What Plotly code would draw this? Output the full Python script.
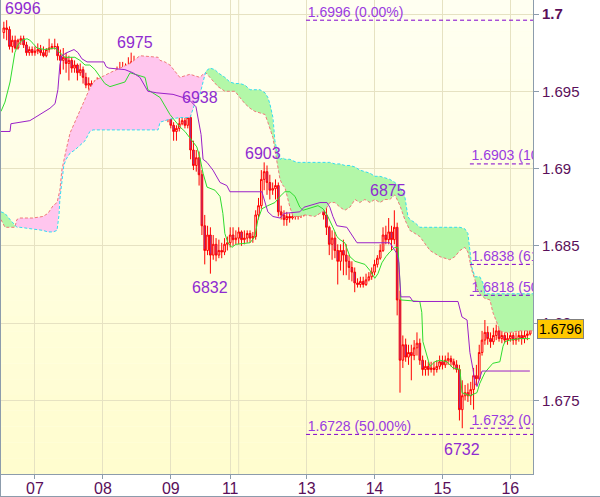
import plotly.graph_objects as go

# ---------------- data (hourly bars, index 0 = start of day 07) ----------------
BARS = list(range(-11, 176))

OPEN = [1.6988, 1.6991, 1.6990, 1.6979, 1.6983, 1.6978, 1.6983, 1.6984, 1.6980, 1.6975, 1.6977,
        1.6975, 1.6976, 1.6977, 1.6975, 1.6973, 1.6977, 1.6978, 1.6979, 1.6979, 1.6973, 1.6970, 1.6972,
        1.6968, 1.6970, 1.6965, 1.6967, 1.6962, 1.6964, 1.6959, 1.6954, 1.6955, 1.6953, 1.6954, 1.6956,
        1.6953, 1.6955, 1.6952, 1.6955, 1.6957, 1.6959, 1.6964, 1.6962, 1.6965, 1.6961, 1.6966, 1.6969,
        1.6962, 1.6948, 1.6959, 1.6956, 1.6946, 1.6941, 1.6935, 1.6943, 1.6933, 1.6935, 1.6933, 1.6934,
        1.6933, 1.6928, 1.6924, 1.6926, 1.6929, 1.6931, 1.6928, 1.6933, 1.6912, 1.6902, 1.6907, 1.6896,
        1.6863, 1.6847, 1.6857, 1.6844, 1.6851, 1.6844, 1.6847, 1.6846, 1.6851,
        1.6852, 1.6857, 1.6854, 1.6855, 1.6859, 1.6854, 1.6855, 1.6858, 1.6855, 1.6856, 1.6870, 1.6876,
        1.6893, 1.6898, 1.6891, 1.6886, 1.6887, 1.6889, 1.6872, 1.6870, 1.6867, 1.6869, 1.6868, 1.6869,
        1.6869, 1.6871, 1.6870,
        1.6876, 1.6881, 1.6876, 1.6881, 1.6876, 1.6880, 1.6873, 1.6870, 1.6862, 1.6851, 1.6855, 1.6847,
        1.6840, 1.6847, 1.6844, 1.6840, 1.6836, 1.6833, 1.6826, 1.6825, 1.6827, 1.6825, 1.6828, 1.6830,
        1.6833, 1.6838, 1.6842, 1.6847, 1.6857, 1.6854, 1.6859, 1.6854,
        1.6862, 1.6815, 1.6776, 1.6786, 1.6778, 1.6781, 1.6779, 1.6784, 1.6787, 1.6776, 1.6770, 1.6772,
        1.6770, 1.6771, 1.6770, 1.6772, 1.6775, 1.6773, 1.6776, 1.6777, 1.6775, 1.6773, 1.6770, 1.6744,
        1.6753, 1.6755, 1.6753, 1.6757, 1.6766, 1.6764, 1.6781, 1.6789, 1.6794, 1.6790, 1.6788, 1.6792,
        1.6795, 1.6790, 1.6792, 1.6789, 1.6790, 1.6792, 1.6789, 1.6790, 1.6792, 1.6790, 1.6792, 1.6793]

HIGH = [1.6995, 1.6996, 1.6992, 1.6986, 1.6986, 1.6984, 1.6986, 1.6986, 1.6982, 1.6979, 1.6979,
        1.6979, 1.6981, 1.6980, 1.6979, 1.6978, 1.6984, 1.6981, 1.6984, 1.6981, 1.6977, 1.6978, 1.6975,
        1.6973, 1.6972, 1.6970, 1.6968, 1.6968, 1.6966, 1.6962, 1.6959, 1.6957, 1.6957, 1.6959, 1.6958,
        1.6957, 1.6957, 1.6957, 1.6960, 1.6961, 1.6966, 1.6969, 1.6969, 1.6968, 1.6972, 1.6975, 1.6973,
        1.6970, 1.6964, 1.6962, 1.6959, 1.6950, 1.6946, 1.6946, 1.6946, 1.6939, 1.6938, 1.6937, 1.6936,
        1.6935, 1.6930, 1.6928, 1.6933, 1.6935, 1.6933, 1.6935, 1.6935, 1.6918, 1.6912, 1.6911, 1.6899,
        1.6870, 1.6863, 1.6862, 1.6857, 1.6855, 1.6854, 1.6852, 1.6855, 1.6856,
        1.6862, 1.6862, 1.6860, 1.6862, 1.6860, 1.6860, 1.6860, 1.6860, 1.6859, 1.6873, 1.6881, 1.6899,
        1.6904, 1.6902, 1.6896, 1.6891, 1.6893, 1.6891, 1.6876, 1.6873, 1.6872, 1.6871, 1.6872, 1.6872,
        1.6873, 1.6874, 1.6880,
        1.6884, 1.6883, 1.6883, 1.6883, 1.6882, 1.6881, 1.6880, 1.6875, 1.6863, 1.6860, 1.6859, 1.6851,
        1.6851, 1.6854, 1.6851, 1.6844, 1.6840, 1.6836, 1.6829, 1.6830, 1.6830, 1.6832, 1.6833, 1.6836,
        1.6841, 1.6844, 1.6851, 1.6862, 1.6863, 1.6868, 1.6863, 1.6873,
        1.6865, 1.6821, 1.6792, 1.6790, 1.6786, 1.6786, 1.6789, 1.6794, 1.6790, 1.6779, 1.6776, 1.6775,
        1.6775, 1.6775, 1.6776, 1.6779, 1.6779, 1.6779, 1.6781, 1.6779, 1.6777, 1.6776, 1.6773, 1.6763,
        1.6760, 1.6761, 1.6762, 1.6771, 1.6773, 1.6786, 1.6795, 1.6802, 1.6798, 1.6794, 1.6797, 1.6799,
        1.6798, 1.6795, 1.6794, 1.6794, 1.6795, 1.6794, 1.6794, 1.6795, 1.6795, 1.6797, 1.6798, 1.6805]

LOW = [1.6984, 1.6983, 1.6977, 1.6975, 1.6977, 1.6977, 1.6980, 1.6978, 1.6973, 1.6973, 1.6973,
       1.6973, 1.6974, 1.6973, 1.6972, 1.6972, 1.6975, 1.6977, 1.6977, 1.6970, 1.6961, 1.6964, 1.6962,
       1.6957, 1.6962, 1.6962, 1.6957, 1.6960, 1.6955, 1.6952, 1.6951, 1.6950, 1.6951, 1.6952, 1.6951,
       1.6949, 1.6946, 1.6951, 1.6953, 1.6955, 1.6957, 1.6954, 1.6960, 1.6959, 1.6959, 1.6962, 1.6951,
       1.6933, 1.6944, 1.6951, 1.6938, 1.6937, 1.6931, 1.6933, 1.6925, 1.6931, 1.6931, 1.6931, 1.6930,
       1.6926, 1.6918, 1.6918, 1.6924, 1.6928, 1.6926, 1.6926, 1.6906, 1.6899, 1.6898, 1.6889, 1.6857,
       1.6838, 1.6844, 1.6832, 1.6841, 1.6840, 1.6842, 1.6842, 1.6844, 1.6847,
       1.6849, 1.6850, 1.6851, 1.6851, 1.6850, 1.6851, 1.6852, 1.6852, 1.6852, 1.6854, 1.6867, 1.6874,
       1.6886, 1.6883, 1.6880, 1.6883, 1.6880, 1.6869, 1.6867, 1.6863, 1.6863, 1.6865, 1.6867, 1.6867,
       1.6867, 1.6868, 1.6869,
       1.6874, 1.6873, 1.6874, 1.6872, 1.6870, 1.6872, 1.6867, 1.6857, 1.6844, 1.6841, 1.6842, 1.6825,
       1.6834, 1.6831, 1.6831, 1.6828, 1.6827, 1.6820, 1.6823, 1.6823, 1.6823, 1.6824, 1.6827, 1.6828,
       1.6831, 1.6836, 1.6841, 1.6846, 1.6851, 1.6851, 1.6847, 1.6851,
       1.6805, 1.6755, 1.6771, 1.6775, 1.6773, 1.6763, 1.6776, 1.6779, 1.6773, 1.6766, 1.6766, 1.6766,
       1.6768, 1.6766, 1.6768, 1.6770, 1.6770, 1.6771, 1.6773, 1.6772, 1.6770, 1.6768, 1.6737, 1.6732,
       1.6750, 1.6749, 1.6747, 1.6744, 1.6760, 1.6763, 1.6779, 1.6786, 1.6786, 1.6784, 1.6786, 1.6789,
       1.6788, 1.6787, 1.6787, 1.6786, 1.6788, 1.6786, 1.6786, 1.6788, 1.6786, 1.6787, 1.6789, 1.6792]

CLOSE = [1.6991, 1.6990, 1.6979, 1.6983, 1.6978, 1.6983, 1.6984, 1.6980, 1.6975, 1.6977, 1.6975,
         1.6976, 1.6977, 1.6975, 1.6973, 1.6977, 1.6978, 1.6979, 1.6979, 1.6973, 1.6970, 1.6972, 1.6968,
         1.6970, 1.6965, 1.6967, 1.6962, 1.6964, 1.6959, 1.6954, 1.6955, 1.6953, 1.6954, 1.6956, 1.6953,
         1.6955, 1.6952, 1.6955, 1.6957, 1.6959, 1.6964, 1.6962, 1.6965, 1.6961, 1.6966, 1.6969, 1.6962,
         1.6948, 1.6959, 1.6956, 1.6946, 1.6941, 1.6935, 1.6943, 1.6933, 1.6935, 1.6933, 1.6934, 1.6933,
         1.6928, 1.6924, 1.6926, 1.6929, 1.6931, 1.6928, 1.6933, 1.6912, 1.6902, 1.6907, 1.6896, 1.6863,
         1.6847, 1.6857, 1.6844, 1.6851, 1.6844, 1.6847, 1.6846, 1.6851, 1.6852,
         1.6857, 1.6854, 1.6855, 1.6859, 1.6854, 1.6855, 1.6858, 1.6855, 1.6856, 1.6870, 1.6876, 1.6893,
         1.6898, 1.6891, 1.6886, 1.6887, 1.6889, 1.6872, 1.6870, 1.6867, 1.6869, 1.6868, 1.6869, 1.6869,
         1.6871, 1.6870, 1.6876,
         1.6881, 1.6876, 1.6881, 1.6876, 1.6880, 1.6873, 1.6870, 1.6862, 1.6851, 1.6855, 1.6847, 1.6840,
         1.6847, 1.6844, 1.6840, 1.6836, 1.6833, 1.6826, 1.6825, 1.6827, 1.6825, 1.6828, 1.6830, 1.6833,
         1.6838, 1.6842, 1.6847, 1.6857, 1.6854, 1.6859, 1.6854, 1.6862,
         1.6815, 1.6776, 1.6786, 1.6778, 1.6781, 1.6779, 1.6784, 1.6787, 1.6776, 1.6770, 1.6772, 1.6770,
         1.6771, 1.6770, 1.6772, 1.6775, 1.6773, 1.6776, 1.6777, 1.6775, 1.6773, 1.6770, 1.6744, 1.6753,
         1.6755, 1.6753, 1.6757, 1.6766, 1.6764, 1.6781, 1.6789, 1.6794, 1.6790, 1.6788, 1.6792, 1.6795,
         1.6790, 1.6792, 1.6789, 1.6790, 1.6792, 1.6789, 1.6790, 1.6792, 1.6790, 1.6792, 1.6793, 1.6796]

# Tenkan-sen (green)
TENKAN_X = [-12.0, -10.6, -8.8, -7.8, -7.1, -6.0, -4.6, -2.8, -1.8, -0.7, 0.7, 3.5, 7.1, 8.8, 10.6,
            14.1, 15.9, 17.7, 19.4, 21.2, 23.0, 24.7, 26.5, 28.3, 30.0, 31.8, 33.6, 35.3, 38.9, 39.9,
            44.2, 47.7, 49.5, 51.2, 53.0, 54.8, 57.2, 58.3, 59.4, 60.8, 63.6, 65.4, 66.4, 67.1, 68.2,
            69.6, 71.0, 76.0, 77.7, 78.8, 80.2, 82.3, 84.8, 86.6, 88.3, 90.1, 91.9, 93.6, 94.7, 96.5,
            100.0, 101.8, 103.5, 105.3, 106.7, 107.8, 109.5, 111.3, 113.1, 116.6, 118.4, 120.1, 121.2,
            122.6, 124.0, 125.4, 127.2, 128.3, 129.3, 136.0, 136.7, 137.1, 138.5, 139.6, 141.3, 143.1,
            145.6, 147.7, 150.2, 150.9, 153.7, 156.2, 157.2, 159.0, 161.8, 164.3, 165.4, 166.1, 167.8,
            171.4, 174.9]
TENKAN_Y = [1.6937, 1.6943, 1.6956, 1.6967, 1.6975, 1.6980, 1.6983, 1.6984, 1.6983, 1.6981, 1.6978,
            1.6977, 1.6978, 1.6975, 1.6972, 1.6972, 1.6970, 1.6967, 1.6967, 1.6964, 1.6959, 1.6955,
            1.6953, 1.6954, 1.6955, 1.6956, 1.6962, 1.6961, 1.6959, 1.6951, 1.6946, 1.6935, 1.6931,
            1.6927, 1.6924, 1.6920, 1.6914, 1.6907, 1.6897, 1.6888, 1.6886, 1.6882, 1.6871, 1.6858,
            1.6852, 1.6849, 1.6851, 1.6852, 1.6856, 1.6867, 1.6874, 1.6876, 1.6878, 1.6882, 1.6885,
            1.6885, 1.6882, 1.6875, 1.6873, 1.6874, 1.6876, 1.6874, 1.6869, 1.6862, 1.6856, 1.6854,
            1.6852, 1.6843, 1.6840, 1.6838, 1.6834, 1.6829, 1.6832, 1.6839, 1.6843, 1.6846, 1.6849,
            1.6849, 1.6815, 1.6814, 1.6807, 1.6788, 1.6778, 1.6772, 1.6775, 1.6776, 1.6775, 1.6771,
            1.6770, 1.6755, 1.6753, 1.6755, 1.6761, 1.6768, 1.6774, 1.6775, 1.6785, 1.6788, 1.6789,
            1.6790, 1.6790]

# Kijun-sen (purple)
KIJUN_X = [-12.0, -8.8, -8.5, -1.8, 0.0, 1.8, 3.5, 5.3, 7.1, 8.1, 8.8, 9.5, 11.3, 13.8, 15.2, 16.6,
           18.4, 24.4, 25.1, 26.1, 31.8, 34.6, 37.1, 38.9, 39.9, 43.1, 48.8, 52.3, 54.8, 56.9, 57.6,
           58.7, 59.4, 60.8, 62.9, 65.4, 67.8, 68.9, 80.2, 81.3, 82.3, 84.1, 86.6, 88.0, 93.6, 95.1,
           100.7, 103.2, 104.2, 105.3, 106.7, 110.2, 112.0, 113.8, 125.4, 127.9, 128.6, 129.3, 132.5,
           133.6, 149.5, 150.9, 152.7, 153.7, 154.8, 155.5, 156.2, 157.2, 158.0, 174.9]
KIJUN_Y = [1.6924, 1.6924, 1.6929, 1.6931, 1.6933, 1.6935, 1.6937, 1.6939, 1.6942, 1.6951, 1.6967,
           1.6973, 1.6975, 1.6977, 1.6975, 1.6971, 1.6969, 1.6969, 1.6966, 1.6965, 1.6964, 1.6962,
           1.6959, 1.6953, 1.6950, 1.6949, 1.6948, 1.6946, 1.6944, 1.6940, 1.6933, 1.6922, 1.6906,
           1.6904, 1.6899, 1.6891, 1.6889, 1.6885, 1.6885, 1.6878, 1.6872, 1.6869, 1.6868, 1.6871,
           1.6872, 1.6875, 1.6878, 1.6878, 1.6875, 1.6869, 1.6863, 1.6862, 1.6857, 1.6852, 1.6852,
           1.6845, 1.6839, 1.6817, 1.6817, 1.6814, 1.6814, 1.6804, 1.6802, 1.6781, 1.6770, 1.6761,
           1.6759, 1.6765, 1.6769, 1.6769]

# Senkou span A (salmon) and B (cyan), sampled at common positions
CLOUD_X = [-12.0, -10.6, -8.8, -7.1, -6.4, -5.3, -0.7, 2.8, 4.6, 6.4, 7.8, 8.5, 8.8, 9.5, 10.2, 11.0,
           12.4, 14.1, 17.7, 19.4, 20.5, 21.2, 26.5, 33.6, 37.1, 42.4, 43.5, 44.2, 45.9, 47.7, 51.2,
           53.0, 54.8, 56.5, 58.3, 59.4, 60.4, 61.8, 63.6, 64.7, 67.1, 68.9, 70.7, 72.4, 74.2, 76.0,
           77.7, 79.5, 81.3, 82.3, 83.0, 83.7, 84.1, 84.8, 85.9, 86.6, 87.6, 88.3, 90.1, 91.2, 92.6,
           93.6, 95.4, 98.9, 102.5, 104.2, 106.0, 107.8, 109.5, 111.3, 113.1, 114.8, 116.6, 118.4,
           120.1, 121.9, 123.7, 125.4, 127.2, 129.0, 130.7, 131.8, 132.5, 134.3, 136.0, 139.6, 143.1,
           146.6, 148.4, 150.2, 151.9, 153.0, 153.7, 154.4, 155.5, 156.5, 157.2, 158.3, 159.0, 160.8,
           161.8, 163.3, 164.3, 166.1, 167.8, 171.4, 176.0]
SPAN_A = [1.6867, 1.6862, 1.6862, 1.6862, 1.6867, 1.6868, 1.6868, 1.6869, 1.6871, 1.6876,
          1.6878, 1.6883, 1.6886, 1.6899, 1.6906, 1.6912, 1.6923, 1.6930, 1.6946, 1.6952,
          1.6955, 1.6957, 1.6962, 1.6968, 1.6973, 1.6972, 1.6972, 1.6970, 1.6969, 1.6967,
          1.6959, 1.6960, 1.6961, 1.6960, 1.6959, 1.6961, 1.6962, 1.6959, 1.6955, 1.6953,
          1.6950, 1.6950, 1.6950, 1.6946, 1.6942, 1.6939, 1.6937, 1.6936, 1.6935, 1.6930,
          1.6926, 1.6923, 1.6920, 1.6912, 1.6901, 1.6893, 1.6889, 1.6888, 1.6875, 1.6869,
          1.6869, 1.6869, 1.6870, 1.6869, 1.6873, 1.6878, 1.6878, 1.6875, 1.6873, 1.6875,
          1.6880, 1.6878, 1.6880, 1.6878, 1.6880, 1.6878, 1.6880, 1.6880, 1.6883, 1.6876,
          1.6867, 1.6863, 1.6860, 1.6858, 1.6856, 1.6847, 1.6843, 1.6841, 1.6843, 1.6847,
          1.6849, 1.6846, 1.6840, 1.6834, 1.6828, 1.6821, 1.6819, 1.6817, 1.6816, 1.6815,
          1.6807, 1.6800, 1.6795, 1.6794, 1.6794, 1.6795, 1.6795]
SPAN_B = [1.6872, 1.6871, 1.6867, 1.6863, 1.6862, 1.6862, 1.6861, 1.6860, 1.6859, 1.6859,
          1.6860, 1.6870, 1.6880, 1.6893, 1.6902, 1.6906, 1.6910, 1.6912, 1.6918, 1.6924,
          1.6925, 1.6925, 1.6925, 1.6925, 1.6925, 1.6925, 1.6925, 1.6930, 1.6931, 1.6932,
          1.6933, 1.6933, 1.6933, 1.6942, 1.6948, 1.6956, 1.6963, 1.6965, 1.6964, 1.6962,
          1.6959, 1.6956, 1.6955, 1.6955, 1.6954, 1.6951, 1.6951, 1.6951, 1.6949, 1.6946,
          1.6942, 1.6937, 1.6933, 1.6918, 1.6908, 1.6906, 1.6907, 1.6906, 1.6906, 1.6905,
          1.6904, 1.6904, 1.6904, 1.6904, 1.6904, 1.6904, 1.6903, 1.6903, 1.6902, 1.6902,
          1.6901, 1.6899, 1.6898, 1.6897, 1.6895, 1.6895, 1.6894, 1.6893, 1.6891, 1.6888,
          1.6882, 1.6869, 1.6867, 1.6865, 1.6862, 1.6862, 1.6862, 1.6862, 1.6862, 1.6862,
          1.6861, 1.6858, 1.6847, 1.6836, 1.6830, 1.6830, 1.6830, 1.6826, 1.6819, 1.6819,
          1.6819, 1.6819, 1.6819, 1.6819, 1.6819, 1.6819, 1.6819]

DAY_TICK_POS = [0, 24, 48, 69, 96, 120, 144, 168]
DAY_TICK_TEXT = ["07", "08", "09", "11", "13", "14", "15", "16"]
SESSION_BREAK = [72]

PRICE_TICKS = [1.675, 1.68, 1.685, 1.69, 1.695, 1.7]
PRICE_TICK_TEXT = ["1.675", "1.68", "1.685", "1.69", "1.695", "<b>1.7</b>"]

SWING_TEXT = ["6996", "6975", "6938", "6903", "6875", "6832", "6732"]
SWING_PRICE = [1.6996, 1.6975, 1.6938, 1.6903, 1.6875, 1.6832, 1.6732]

FIB_A_LEVELS = [1.6996, 1.6728]
FIB_A_PCT = ["0.00%", "50.00%"]
FIB_B_LEVELS = [1.6903, 1.6838, 1.6818, 1.6732]
FIB_B_PCT = ["100.00%", "61.80%", "50.00%", "0.00%"]

LAST_PRICE = 1.6796

# ---------------- layout / styling ----------------
X_RANGE = [-12, 176]
Y_RANGE = [1.670238, 1.700906]
FIB_A_START = 95.8
FIB_B_START = 153.7
SWING_LABEL_X = [-4.2, 35.3, 58.3, 80.6, 124.7, 61.8, 150.9]
SWING_LABEL_SHIFT = [11.7, 10, 12, 10.5, 17, -14, -21]

FONT = "Arial, 'Liberation Sans', sans-serif"
PINK = "#ffc6ee"
GREEN = "#b3f7a8"
AXIS_GREY = "#8c9cac"
GRID = "#e6e2c2"
TICK_COL = "#5a0f5a"
LABEL_PURPLE = "#8f2bd0"
FIB_COL = "#8000cc"

fig = go.Figure()


def cloud_regions(xs, a, b):
    regions = []
    cur_sign = a[0] >= b[0]
    cur = [(xs[0], a[0], b[0])]
    for k in range(1, len(xs)):
        s = a[k] >= b[k]
        if s != cur_sign:
            d0 = a[k - 1] - b[k - 1]
            d1 = a[k] - b[k]
            t = d0 / (d0 - d1)
            xc = xs[k - 1] + t * (xs[k] - xs[k - 1])
            yc = a[k - 1] + t * (a[k] - a[k - 1])
            cur.append((xc, yc, yc))
            regions.append((cur_sign, cur))
            cur = [(xc, yc, yc)]
            cur_sign = s
        cur.append((xs[k], a[k], b[k]))
    regions.append((cur_sign, cur))
    return regions


for sign, pts in cloud_regions(CLOUD_X, SPAN_A, SPAN_B):
    px = [p[0] for p in pts] + [p[0] for p in reversed(pts)]
    py = [p[1] for p in pts] + [p[2] for p in reversed(pts)]
    fig.add_trace(go.Scatter(x=px, y=py, fill="toself", mode="lines",
                             fillcolor=PINK if sign else GREEN,
                             line=dict(width=0, color="rgba(0,0,0,0)"),
                             hoverinfo="skip", showlegend=False))

fig.add_trace(go.Scatter(x=CLOUD_X, y=SPAN_A, mode="lines",
                         line=dict(color="#f07a7a", width=1, dash="3px,2px"),
                         hoverinfo="skip", showlegend=False))
fig.add_trace(go.Scatter(x=CLOUD_X, y=SPAN_B, mode="lines",
                         line=dict(color="#33dcf0", width=1, dash="3px,2px"),
                         hoverinfo="skip", showlegend=False))

fig.add_trace(go.Candlestick(
    x=BARS, open=OPEN, high=HIGH, low=LOW, close=CLOSE,
    increasing=dict(line=dict(color="#ff0000", width=1), fillcolor="#fff0e0"),
    decreasing=dict(line=dict(color="#ff0000", width=1), fillcolor="#8a3ab0"),
    whiskerwidth=0, hoverinfo="skip", showlegend=False))

fig.add_trace(go.Scatter(x=TENKAN_X, y=TENKAN_Y, mode="lines",
                         line=dict(color="#2fdc2f", width=1),
                         hoverinfo="skip", showlegend=False))
fig.add_trace(go.Scatter(x=KIJUN_X, y=KIJUN_Y, mode="lines",
                         line=dict(color="#9a20c8", width=1),
                         hoverinfo="skip", showlegend=False))

# Fibonacci levels (lines + clipped labels)
for start, levels, pcts in ((FIB_A_START, FIB_A_LEVELS, FIB_A_PCT),
                            (FIB_B_START, FIB_B_LEVELS, FIB_B_PCT)):
    for lv, pc in zip(levels, pcts):
        fig.add_trace(go.Scatter(x=[start, X_RANGE[1]], y=[lv, lv], mode="lines",
                                 line=dict(color=FIB_COL, width=1, dash="4px,3px"),
                                 hoverinfo="skip", showlegend=False))
        fig.add_trace(go.Scatter(x=[start + 0.6], y=[lv], mode="text",
                                 text=[f"{lv:.4f} ({pc})"], textposition="top right",
                                 textfont=dict(family=FONT, size=14, color="#9a3be0"),
                                 cliponaxis=True, hoverinfo="skip", showlegend=False))

annotations = []
for txt, pr, lx, sh in zip(SWING_TEXT, SWING_PRICE, SWING_LABEL_X, SWING_LABEL_SHIFT):
    annotations.append(dict(x=lx, y=pr, xref="x", yref="y", text=txt, showarrow=False,
                            xanchor="center", yanchor="middle", yshift=sh,
                            font=dict(family=FONT, size=16, color=LABEL_PURPLE)))
annotations.append(dict(x=1, y=LAST_PRICE, xref="paper", yref="y", text=f"{LAST_PRICE:.4f}",
                        showarrow=False, xanchor="left", yanchor="middle", xshift=4,
                        bgcolor="#ffc800", bordercolor="#7f7f7f", borderwidth=1, borderpad=1,
                        font=dict(family=FONT, size=14, color="#000000")))

shapes = []
# subtle vertical gradient of the plot background
N = 30
top = (255, 255, 242)
bot = (255, 253, 206)
for k in range(N):
    f = (k + 0.5) / N
    c = tuple(round(bot[j] + (top[j] - bot[j]) * f) for j in range(3))
    shapes.append(dict(type="rect", xref="paper", yref="paper", x0=0, x1=1,
                       y0=k / N, y1=(k + 1) / N, layer="below",
                       line=dict(width=0), fillcolor=f"rgb{c}"))
for sb in SESSION_BREAK:
    shapes.append(dict(type="line", xref="x", yref="paper", x0=sb, x1=sb, y0=0, y1=1,
                       layer="below", line=dict(color=GRID, width=1)))
# outer frame (left, bottom)
shapes.append(dict(type="line", xref="paper", yref="paper", x0=-0.5 / 532, x1=-0.5 / 532,
                   y0=-23 / 474, y1=1, line=dict(color=AXIS_GREY, width=1)))
shapes.append(dict(type="line", xref="paper", yref="paper", x0=-1 / 532, x1=599 / 532,
                   y0=-22.5 / 474, y1=-22.5 / 474, line=dict(color=AXIS_GREY, width=1)))

fig.update_layout(
    width=600, height=497,
    margin=dict(l=1, r=67, t=0, b=23, autoexpand=False),
    paper_bgcolor="#ffffff", plot_bgcolor="#fffee6",
    showlegend=False, hovermode=False, boxgap=0.15,
    font=dict(family=FONT),
    annotations=annotations, shapes=shapes,
    xaxis=dict(range=X_RANGE, tickvals=DAY_TICK_POS, ticktext=DAY_TICK_TEXT,
               showgrid=True, gridcolor=GRID, gridwidth=1, zeroline=False,
               showline=True, linecolor=AXIS_GREY, linewidth=1,
               ticks="outside", ticklen=4, tickcolor=AXIS_GREY, ticklabelstandoff=-4,
               tickfont=dict(family=FONT, size=16, color=TICK_COL),
               rangeslider=dict(visible=False), fixedrange=True),
    yaxis=dict(range=Y_RANGE, side="right", tickvals=PRICE_TICKS, ticktext=PRICE_TICK_TEXT,
               showgrid=True, gridcolor=GRID, gridwidth=1, zeroline=False,
               showline=True, linecolor=AXIS_GREY, linewidth=1,
               ticks="outside", ticklen=5, tickcolor=AXIS_GREY,
               tickfont=dict(family=FONT, size=15, color=TICK_COL), fixedrange=True),
)

fig.write_html("out.html", config={"displayModeBar": False},
               post_script="document.body.style.margin='0';document.body.style.padding='0';")
